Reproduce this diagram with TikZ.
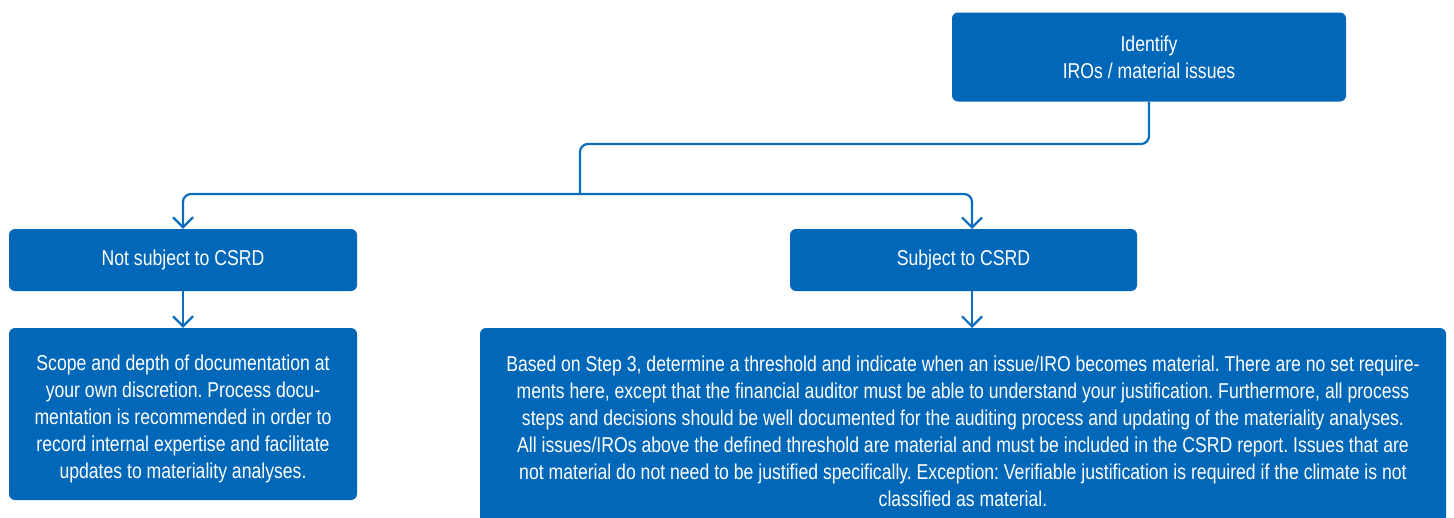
\documentclass[tikz,border=0pt]{standalone}
\usepackage{fontspec}
\setmainfont{Liberation Sans}[FakeStretch=0.82]
\usetikzlibrary{arrows.meta}
\definecolor{boxblue}{RGB}{0,103,185}
\definecolor{lineblue}{RGB}{12,108,190}
\frenchspacing
\tikzset{
  flowbox/.style={rounded corners=6pt, fill=boxblue, text=white, align=center,
    font=\fontsize{21.5}{27}\selectfont\frenchspacing, inner sep=0pt},
  conn/.style={draw=lineblue, line width=2.2pt, rounded corners=8pt},
  flowarrow/.style={conn, -{Straight Barb[length=10pt, width=20pt, line width=2.2pt]}}
}
\begin{document}
\begin{tikzpicture}[x=1pt, y=-1pt]
  \clip (0,0) rectangle (1454,517);
  \fill[white] (0,0) rectangle (1454,517);

  % boxes
  \node[flowbox, minimum width=394pt, minimum height=89pt] (iro) at (1149,57)
    {Identify\\IROs / material issues};
  \node[flowbox, minimum width=348pt, minimum height=62pt] (notsub) at (183,260)
    {Not subject to CSRD};
  \node[flowbox, minimum width=347pt, minimum height=62pt] (sub) at (963.5,260)
    {Subject to CSRD};
  % the strut on the first line lowers the text block a little
  \node[flowbox, minimum width=348pt, minimum height=172pt] (notdoc) at (183,414)
    {\rule{0pt}{26pt}Scope and depth of documentation at\\
     your own discretion. Process docu-\\
     mentation is recommended in order to\\
     record internal expertise and facilitate\\
     updates to materiality analyses.};
  \node[flowbox, minimum width=966pt, minimum height=206pt] (subdoc) at (963,431)
    {Based on Step 3, determine a threshold and indicate when an issue/IRO becomes material. There are no set require-\\
     ments here, except that the financial auditor must be able to understand your justification. Furthermore, all process\\
     steps and decisions should be well documented for the auditing process and updating of the materiality analyses.\\
     All issues/IROs above the defined threshold are material and must be included in the CSRD report. Issues that are\\
     not material do not need to be justified specifically. Exception: Verifiable justification is required if the climate is not\\
     classified as material.};

  % routing points
  \coordinate (split) at (580,194);
  \coordinate (subin) at (972,229);
  \coordinate (subout) at (972,291);
  \coordinate (subdocin) at (972,328);

  % connectors
  \draw[conn] (iro.south) |- (580,144) -- (split);
  \draw[flowarrow] (split) -| (notsub.north);
  \draw[flowarrow] (split) -| (subin);
  \draw[flowarrow] (notsub.south) -- (notdoc.north);
  \draw[flowarrow] (subout) -- (subdocin);
\end{tikzpicture}
\end{document}
